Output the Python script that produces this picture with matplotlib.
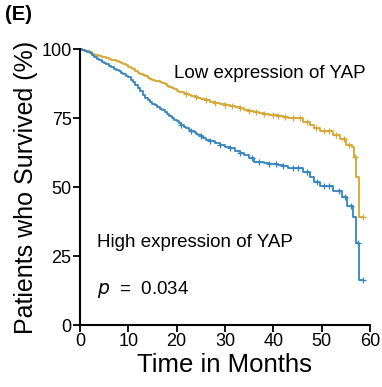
import numpy as np
import matplotlib
matplotlib.use("Agg")
import matplotlib.pyplot as plt

plt.rcParams['font.family'] = ['Liberation Sans', 'DejaVu Sans']

# Kaplan-Meier curves (months, % survived)
t_low = [0, 0.5, 1, 1.5, 2, 2.5, 3, 3.5, 4, 4.5, 5, 5.5, 6, 6.5, 7, 7.5, 8, 8.5,
         9, 9.5, 10, 10.5, 11, 11.5, 12, 12.5, 13, 13.5, 14, 14.5, 15, 15.5, 16,
         16.5, 17, 17.5, 18, 18.5, 19, 19.5, 20, 20.5, 21, 21.5, 22, 22.5, 23,
         23.5, 24, 24.5, 25, 26, 27, 28, 29, 30, 31, 32, 33, 34, 35, 36, 37, 38,
         39, 40, 41, 42, 43, 44, 45, 46.2, 47.6, 48.3, 49.7, 52.4, 53.8, 55.1,
         56.2, 56.6, 57.1, 57.6, 58.6]
s_low = [100, 99.8, 99.5, 99.2, 98.8, 98.4, 98.0, 97.8, 97.5, 97.2, 97.0, 96.8,
         96.5, 96.2, 96.0, 95.8, 95.5, 95.0, 94.6, 94.1, 93.7, 93.3, 92.8, 92.1,
         91.5, 91.0, 90.6, 90.1, 89.6, 89.2, 88.9, 88.6, 88.3, 88.0, 87.7, 87.2,
         86.8, 86.3, 85.8, 85.4, 85.0, 84.6, 84.3, 84.0, 83.8, 83.5, 83.2, 82.9,
         82.6, 82.3, 82.0, 81.5, 81.0, 80.6, 80.2, 79.8, 79.5, 79.2, 78.6, 78.0,
         77.5, 77.2, 76.8, 76.5, 76.2, 76.0, 75.7, 75.5, 75.2, 75.0, 74.9, 73.7,
         72.5, 71.3, 70.4, 68.8, 67.3, 65.2, 64.6, 61.0, 53.7, 39.2, 39.2]

t_high = [0, 0.5, 1, 1.5, 2, 2.5, 3, 3.5, 4, 4.5, 5, 5.5, 6, 6.5, 7, 7.5, 8, 8.5,
          9, 9.5, 10, 10.5, 11, 11.5, 12, 12.5, 13, 13.5, 14, 14.5, 15, 15.5, 16,
          16.5, 17, 17.5, 18, 18.5, 19, 19.5, 20, 20.5, 21, 21.5, 22, 22.5, 23,
          23.5, 24, 24.5, 25, 25.5, 26, 27, 28, 29, 30, 31, 32, 33, 34, 35, 36,
          37, 38, 39, 40, 41, 42, 43, 44, 45.5, 46.2, 47.6, 48.3, 49.7, 52.4,
          54.1, 55.2, 56.4, 57.1, 57.6, 58.6]
s_high = [100, 99.7, 99.3, 98.9, 98.5, 97.9, 97.3, 96.6, 96.0, 95.5, 95.0, 94.5,
          94.0, 93.4, 92.8, 92.4, 92.0, 91.5, 91.0, 90.4, 89.8, 89.0, 88.2, 87.1,
          86.0, 84.7, 83.5, 82.4, 81.5, 80.8, 80.2, 79.6, 79.0, 78.4, 77.8, 77.1,
          76.5, 75.7, 75.0, 74.4, 73.8, 73.1, 72.5, 71.9, 71.3, 70.8, 70.4, 69.9,
          69.4, 68.9, 68.4, 67.8, 67.2, 66.6, 66.0, 65.3, 64.6, 64.0, 63.2, 62.4,
          61.8, 60.5, 59.2, 59.0, 58.7, 58.5, 58.2, 58.0, 57.6, 57.1, 57.0, 56.8,
          55.6, 53.7, 52.0, 50.5, 48.7, 46.3, 43.1, 39.0, 29.8, 16.3, 16.3]

# censored observations (months)
c_low = [22, 24, 26, 28, 30, 31.5, 33, 35, 36.5, 38, 40, 41, 42.5, 44, 45.5, 47,
         48.8, 50.5, 51.5, 53, 54.5, 55.6, 56.9, 58.6]
c_high = [21, 23, 25, 27, 29, 31, 33, 35.5, 37, 39, 40.5, 42, 44, 45, 47, 49,
          50.5, 51.5, 53.5, 54.8, 56, 57.4, 58.6]

col_low = '#D6A732'
col_high = '#3585C0'


def censor_y(t, s, c):
    idx = np.searchsorted(np.array(t), np.array(c), side='right') - 1
    return np.array(s)[idx]


fig = plt.figure(figsize=(3.82, 3.87), dpi=100)
ax = fig.add_axes([0.209, 0.160, 0.760, 0.713])

ax.step(t_low, s_low, where='post', color=col_low, lw=1.3, clip_on=False)
ax.step(t_high, s_high, where='post', color=col_high, lw=1.3, clip_on=False)
ax.plot(c_low, censor_y(t_low, s_low, c_low), '+', color=col_low, ms=4, mew=0.9,
        clip_on=False)
ax.plot(c_high, censor_y(t_high, s_high, c_high), '+', color=col_high, ms=4,
        mew=0.9, clip_on=False)

ax.set_xlim(0, 60)
ax.set_ylim(0, 100)
ax.set_xticks(range(0, 61, 10))
ax.set_yticks([0, 25, 50, 75, 100])
for sp in ['top', 'right']:
    ax.spines[sp].set_visible(False)
for sp in ['left', 'bottom']:
    ax.spines[sp].set_linewidth(1.5)
ax.tick_params(direction='out', length=5, width=1.3, labelsize=13, pad=1)

ax.set_xlabel('Time in Months', fontsize=18.5, labelpad=2)
ax.set_ylabel('Patients who Survived (%)', fontsize=18, labelpad=2)

ax.text(19.5, 91, 'Low expression of YAP', fontsize=13.5, va='center')
ax.text(3.5, 30, 'High expression of YAP', fontsize=13.5, va='center')
ax.text(3.5, 13, r'$p$  =  0.034', fontsize=13.5, va='center')

fig.text(0.013, 0.963, '(E)', fontsize=14.5, fontweight='bold', va='center')

fig.savefig('out.png', dpi=100)
